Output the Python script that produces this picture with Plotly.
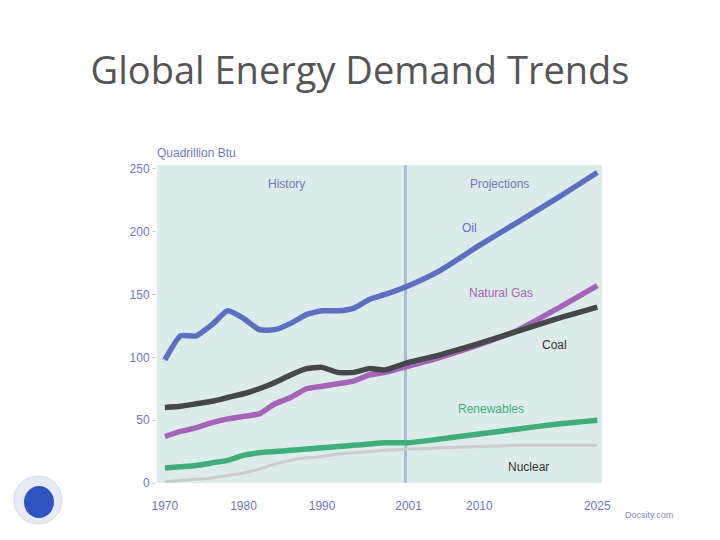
import plotly.graph_objects as go

years = [1970, 1972, 1974, 1976, 1978, 1980, 1982, 1984, 1986, 1988, 1990, 1992,
         1994, 1996, 1998, 2001, 2005, 2010, 2015, 2020, 2025]
oil = [98, 117, 117, 126, 137, 131, 122, 122, 127, 134, 137, 137,
       139, 146, 150, 157, 169, 189, 208, 227, 247]
natural_gas = [37, 41, 44, 48, 51, 53, 55, 63, 68, 75, 77, 79,
               81, 86, 88, 93, 100, 110, 122, 139, 157]
coal = [60, 61, 63, 65, 68, 71, 75, 80, 86, 91, 92, 88,
        88, 91, 90, 96, 102, 111, 121, 131, 140]
renewables = [12, 13, 14, 16, 18, 22, 24, 25, 26, 27, 28, 29,
              30, 31, 32, 32, 35, 39, 43, 47, 50]
nuclear = [1, 2, 3, 4, 6, 8, 11, 15, 18, 20, 21, 23,
           24, 25, 26, 27, 28, 29, 30, 30, 30]

tick_years = [1970, 1980, 1990, 2001, 2010, 2025]
tick_vals = [0, 50, 100, 150, 200, 250]
divider_year = 2000.6

fig = go.Figure()
series = [
    ("Nuclear", nuclear, "#c9cccc", 3),
    ("Renewables", renewables, "#3fae7c", 5.5),
    ("Natural Gas", natural_gas, "#a465b8", 5.5),
    ("Coal", coal, "#454848", 5.5),
    ("Oil", oil, "#5f6ec2", 5.5),
]
for name, vals, color, w in series:
    fig.add_trace(go.Scatter(x=years, y=vals, mode="lines", name=name,
                             line=dict(color=color, width=w, shape="spline", smoothing=0.5),
                             showlegend=False))

fig.add_shape(type="line", x0=divider_year, x1=divider_year, y0=0, y1=1,
              xref="x", yref="paper", line=dict(color="#a9bccb", width=3), layer="below")

lab = "#6f77b9"
ann = [
    (1985.5, 238, "History", lab),
    (2012.5, 238, "Projections", lab),
    (2008.8, 203, "Oil", "#5f6ec2"),
    (2012.8, 151, "Natural Gas", "#a465b8"),
    (2019.6, 110, "Coal", "#333333"),
    (2011.5, 59, "Renewables", "#3fae7c"),
    (2016.2, 13, "Nuclear", "#333333"),
]
for x, y, t, c in ann:
    fig.add_annotation(x=x, y=y, text=t, showarrow=False, xref="x", yref="y",
                       font=dict(family="Liberation Sans, Arial", size=12, color=c))

fig.add_annotation(x=-0.005, y=1.01, xref="paper", yref="paper", xanchor="left", yanchor="bottom",
                   text="Quadrillion Btu", showarrow=False,
                   font=dict(family="Liberation Sans, Arial", size=12, color=lab))

fig.add_annotation(x=(675 - 157) / 445, y=(483 - 522) / 318, xref="paper", yref="paper",
                   text="Docsity.com", showarrow=False,
                   font=dict(family="Liberation Sans, Arial", size=9, color="#8a86d0"))

# logo decoration
fig.add_shape(type="circle", xref="paper", yref="paper",
              x0=(14 - 157) / 445, x1=(62 - 157) / 445,
              y0=(483 - 524) / 318, y1=(483 - 476) / 318,
              fillcolor="#e6eaf4", line=dict(color="#d5dbee", width=1))
fig.add_shape(type="circle", xref="paper", yref="paper",
              x0=(24 - 157) / 445, x1=(54 - 157) / 445,
              y0=(483 - 518) / 318, y1=(483 - 486) / 318,
              fillcolor="#2f53c2", line=dict(width=0))

fig.update_layout(
    width=720, height=540,
    margin=dict(l=157, r=118, t=165, b=57),
    paper_bgcolor="white",
    plot_bgcolor="#dcecea",
    title=dict(text="Global Energy Demand Trends", x=0.5, xref="container", xanchor="center",
               y=0.87, yanchor="middle",
               font=dict(family="Open Sans", size=38, color="#555555")),
    xaxis=dict(range=[1969, 2025.6], tickmode="array", tickvals=tick_years,
               ticktext=[str(v) for v in tick_years], showgrid=False, zeroline=False,
               ticks="outside", ticklen=12, tickcolor="rgba(0,0,0,0)",
               tickfont=dict(family="Liberation Sans, Arial", size=12, color=lab)),
    yaxis=dict(range=[0, 253], tickmode="array", tickvals=tick_vals, showgrid=False,
               zeroline=False, ticks="outside", ticklen=4, tickcolor="#c8d0e0",
               tickfont=dict(family="Liberation Sans, Arial", size=12, color=lab)),
)

fig.write_html("out.html")
